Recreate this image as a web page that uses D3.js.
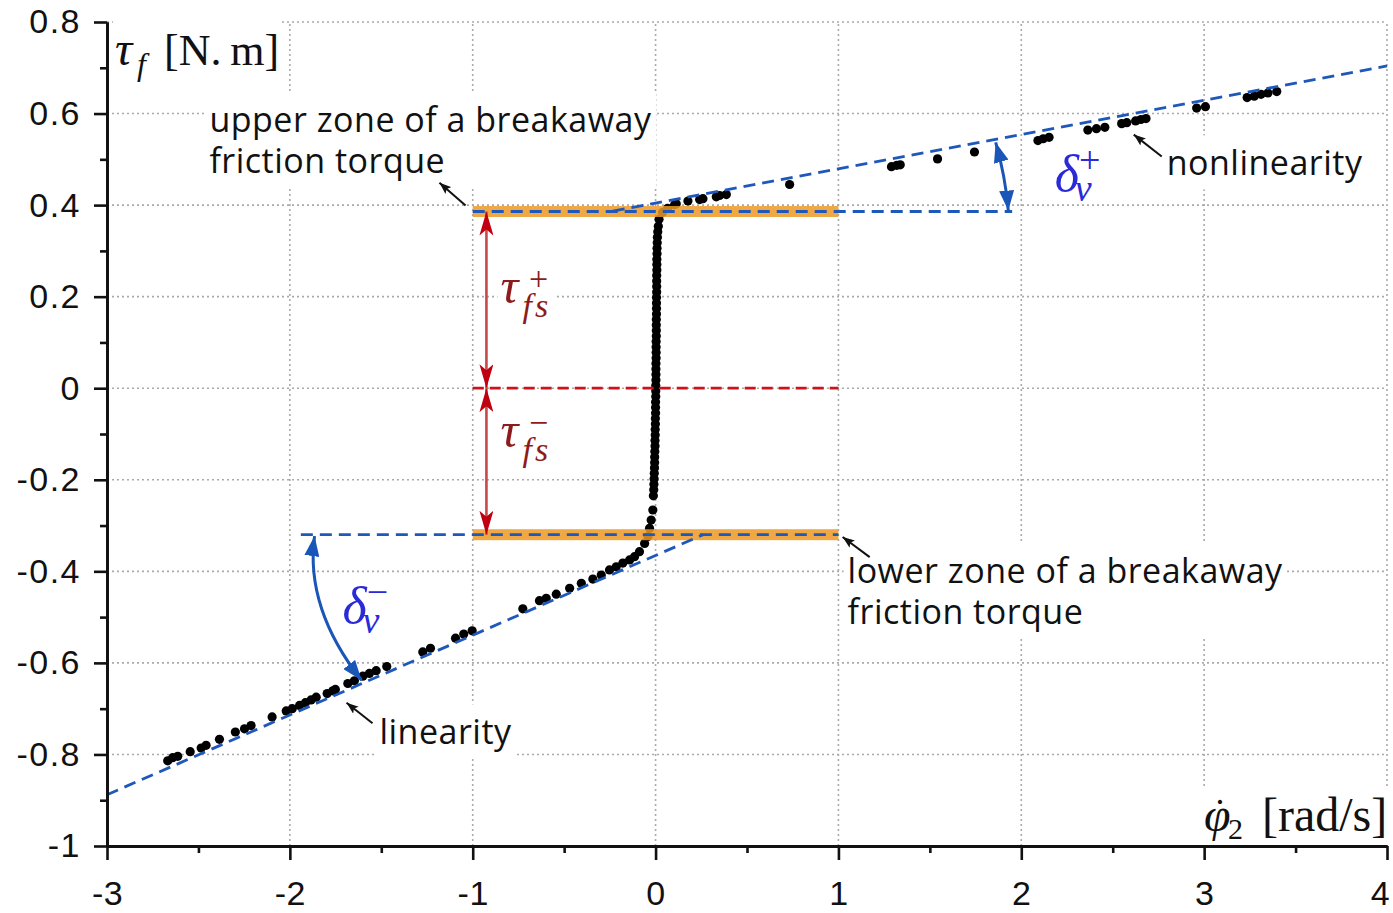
<!DOCTYPE html>
<html><head><meta charset="utf-8">
<script src="https://cdn.jsdelivr.net/npm/d3@7"></script>
<style>body{margin:0;background:#fff;overflow:hidden}</style>
</head><body>
<svg id="c" width="1393" height="913"></svg>
<script>
// ---------- data ----------
const xTicks = [-3, -2, -1, 0, 1, 2, 3, 4];
const xTickLabels = ["-3", "-2", "-1", "0", "1", "2", "3", "4"];
const yTicks = [-1, -0.8, -0.6, -0.4, -0.2, 0, 0.2, 0.4, 0.6, 0.8];
const yTickLabels = ["-1", "-0.8", "-0.6", "-0.4", "-0.2", "0", "0.2", "0.4", "0.6", "0.8"];
const xMinorTicks = [-2.5, -1.5, -0.5, 0.5, 1.5, 2.5, 3.5];
const yMinorTicks = [-0.9, -0.7, -0.5, -0.3, -0.1, 0.1, 0.3, 0.5, 0.7];

// measured friction torque vs velocity (negative sliding branch)
const slipNeg = [[-2.668,-0.814],[-2.641,-0.807],[-2.613,-0.804],[-2.545,-0.794],[-2.485,-0.786],[-2.458,-0.780],
 [-2.385,-0.767],[-2.298,-0.751],[-2.248,-0.744],[-2.212,-0.737],[-2.097,-0.718],[-2.020,-0.705],[-1.987,-0.700],
 [-1.947,-0.693],[-1.915,-0.687],[-1.884,-0.681],[-1.856,-0.675],[-1.796,-0.667],[-1.765,-0.661],[-1.751,-0.658],
 [-1.683,-0.645],[-1.647,-0.639],[-1.601,-0.629],[-1.565,-0.623],[-1.528,-0.617],[-1.470,-0.608],[-1.273,-0.576],
 [-1.231,-0.568],[-1.094,-0.546],[-1.049,-0.537],[-1.003,-0.530],[-0.726,-0.482],[-0.635,-0.464],[-0.598,-0.459],
 [-0.543,-0.450],[-0.470,-0.437],[-0.406,-0.426],[-0.343,-0.417],[-0.297,-0.408],[-0.252,-0.397],[-0.215,-0.390],
 [-0.179,-0.382],[-0.142,-0.375],[-0.115,-0.368],[-0.088,-0.357],[-0.060,-0.339],[-0.042,-0.324],[-0.033,-0.306],
 [-0.024,-0.288],[-0.015,-0.266]];
// stiction (near-zero velocity) part
const stick = [[-0.012,-0.235],[-0.010,-0.222],[-0.009,-0.210],[-0.008,-0.198],[-0.007,-0.186],[-0.006,-0.174],
 [-0.005,-0.162],[-0.005,-0.150],[-0.004,-0.138],[-0.003,-0.126],[-0.003,-0.114],[-0.002,-0.102],[-0.002,-0.090],
 [-0.001,-0.078],[-0.001,-0.066],[0.000,-0.054],[0.000,-0.042],[0.000,-0.030],[0.001,-0.018],[0.001,-0.006],
 [0.001,0.006],[0.002,0.018],[0.002,0.030],[0.002,0.042],[0.002,0.054],[0.003,0.066],[0.003,0.078],[0.003,0.090],
 [0.003,0.102],[0.004,0.114],[0.004,0.126],[0.004,0.138],[0.004,0.150],[0.005,0.162],[0.005,0.174],[0.005,0.186],
 [0.005,0.198],[0.006,0.210],[0.006,0.222],[0.006,0.234],[0.006,0.246],[0.007,0.258],[0.007,0.270],[0.007,0.282],
 [0.008,0.294],[0.008,0.306],[0.009,0.318],[0.010,0.330],[0.012,0.342],[0.015,0.354]];
// positive sliding branch
const slipPos = [[0.019,0.369],[0.038,0.384],[0.066,0.393],[0.104,0.401],[0.113,0.403],[0.177,0.409],[0.241,0.412],
 [0.259,0.414],[0.332,0.418],[0.350,0.421],[0.387,0.423],[0.733,0.445],[1.290,0.484],[1.319,0.487],[1.338,0.488],
 [1.542,0.501],[1.744,0.516],[2.091,0.541],[2.120,0.545],[2.152,0.548],[2.364,0.564],[2.411,0.567],[2.457,0.570],
 [2.549,0.578],[2.577,0.580],[2.625,0.584],[2.654,0.587],[2.682,0.589],[2.959,0.612],[3.007,0.615],[3.235,0.635],
 [3.274,0.638],[3.311,0.642],[3.349,0.645],[3.397,0.648]];

// reference lines
const slopePos = [[-0.234, 0.387], [4.0, 0.704]];
const slopeNeg = [[-3.0, -0.888], [0.26, -0.320]];
const breakUpper = 0.386, breakLower = -0.320;
const breakUpperX = [-1, 1.95], breakLowerX = [-1.94, 1.0];
const bandX = [-1, 1];
const bandHalf = 0.012;
const zeroLineX = [-1, 1];
const tauArrowX = -0.925;

const noteUpper = ["upper zone of a breakaway", "friction torque"];
const noteLower = ["lower zone of a breakaway", "friction torque"];
const noteNonlin = "nonlinearity";
const noteLin = "linearity";

// ---------- drawing ----------
const svg = d3.select("#c");
const x = d3.scaleLinear().domain([-3, 4]).range([107, 1387]);
const y = d3.scaleLinear().domain([-1, 0.8]).range([846, 22]);

const BLUE = "#1f58bb", RED = "#d0101a", ORANGE = "rgb(237,153,36)";
const SANS = "'Open Sans', sans-serif";
const SERIF = "'Liberation Serif', 'DejaVu Serif', serif";

const defs = svg.append("defs");
function marker(id, w, h, d, color) {
  defs.append("marker").attr("id", id).attr("viewBox", `0 0 ${w} ${h}`)
    .attr("refX", w).attr("refY", h / 2).attr("markerWidth", w).attr("markerHeight", h)
    .attr("markerUnits", "userSpaceOnUse").attr("orient", "auto-start-reverse")
    .append("path").attr("d", d).attr("fill", color);
}
marker("redHead", 24, 14, "M0,0 L24,7 L0,14 L6,7 Z", "#c00010");
marker("blueHead", 20, 15, "M0,0 L20,7.5 L0,15 Z", "#1a55b8");
marker("blackHead", 12, 9, "M0,0 L12,4.5 L0,9 L2.5,4.5 Z", "#111");

// grid
const grid = svg.append("g").attr("stroke", "#aaa").attr("stroke-width", 1.6).attr("stroke-dasharray", "2,3");
grid.selectAll("line.v").data(xTicks.filter(d => d > -3)).join("line")
  .attr("x1", d => x(d)).attr("x2", d => x(d)).attr("y1", y(-1)).attr("y2", y(0.8));
grid.selectAll("line.h").data(yTicks.filter(d => d > -1)).join("line").attr("class", "h")
  .attr("x1", x(-3)).attr("x2", x(4)).attr("y1", d => y(d)).attr("y2", d => y(d));

const maskLayer = svg.append("g");
const plotLayer = svg.append("g");
const textLayer = svg.append("g");

function masked(sel, pad) {
  const b = sel.node().getBBox();
  maskLayer.append("rect").attr("x", b.x - pad).attr("y", b.y - pad)
    .attr("width", b.width + 2 * pad).attr("height", b.height + 2 * pad).attr("fill", "#fff");
}

// dots
const dot = 4.6;
plotLayer.append("g").selectAll("circle").data(slipNeg.concat(stick, slipPos)).join("circle")
  .attr("cx", d => x(d[0])).attr("cy", d => y(d[1])).attr("r", dot).attr("fill", "#000");

// orange bands (over dots, slightly transparent)
plotLayer.append("g").selectAll("rect").data([breakUpper, breakLower]).join("rect")
  .attr("x", x(bandX[0])).attr("width", x(bandX[1]) - x(bandX[0]))
  .attr("y", d => y(d + bandHalf)).attr("height", d => y(d - bandHalf) - y(d + bandHalf))
  .attr("fill", ORANGE).attr("opacity", 0.85);

const line = d3.line().x(d => x(d[0])).y(d => y(d[1]));
const dashed = (pts, color, dash) => plotLayer.append("path").attr("d", line(pts)).attr("fill", "none")
  .attr("stroke", color).attr("stroke-width", 2.8).attr("stroke-dasharray", dash);
dashed(slopePos, BLUE, "12,7");
dashed(slopeNeg, BLUE, "12,7");
dashed([[breakUpperX[0], breakUpper], [breakUpperX[1], breakUpper]], BLUE, "12,7");
dashed([[breakLowerX[0], breakLower], [breakLowerX[1], breakLower]], BLUE, "12,7");
dashed([[zeroLineX[0], 0], [zeroLineX[1], 0]], RED, "11,6");

// red double arrows
[[breakUpper, 0], [0, breakLower]].forEach(([a, b]) => {
  plotLayer.append("line").attr("x1", x(tauArrowX)).attr("x2", x(tauArrowX))
    .attr("y1", y(a)).attr("y2", y(b)).attr("stroke", "#c64848").attr("stroke-width", 2.6)
    .attr("marker-start", "url(#redHead)").attr("marker-end", "url(#redHead)");
});

// blue curved angle arrows
function arc(p0, c, p1) {
  plotLayer.append("path")
    .attr("d", `M${x(p0[0])},${y(p0[1])} Q${x(c[0])},${y(c[1])} ${x(p1[0])},${y(p1[1])}`)
    .attr("fill", "none").attr("stroke", "#1a55b8").attr("stroke-width", 3)
    .attr("marker-start", "url(#blueHead)").attr("marker-end", "url(#blueHead)");
}
arc([1.860, 0.537], [1.913, 0.463], [1.929, 0.388]);
arc([-1.865, -0.323], [-1.918, -0.480], [-1.608, -0.638]);

// black annotation arrows
function note(tail, head) {
  plotLayer.append("line").attr("x1", x(tail[0])).attr("y1", y(tail[1]))
    .attr("x2", x(head[0])).attr("y2", y(head[1])).attr("stroke", "#111").attr("stroke-width", 2)
    .attr("marker-end", "url(#blackHead)");
}
note([-1.039, 0.399], [-1.182, 0.449]);
note([1.171, -0.369], [1.023, -0.325]);
note([2.768, 0.506], [2.615, 0.554]);
note([-1.548, -0.732], [-1.690, -0.687]);

// annotation texts
function multiText(lines, px, py, gap) {
  const t = textLayer.append("text").attr("x", px).attr("y", py)
    .attr("font-family", SANS).attr("font-size", 34).attr("letter-spacing", 0.5).attr("fill", "#111");
  lines.forEach((s, i) => t.append("tspan").attr("x", px).attr("dy", i ? gap : 0).text(s));
  masked(t, 4);
  return t;
}
multiText(noteUpper, x(-2.440), y(0.5587), 41);
multiText(noteLower, x(1.050), y(-0.426), 41);
multiText([noteNonlin], x(2.795), y(0.465), 0);
multiText([noteLin], x(-1.510), y(-0.778), 0);

// math labels
function mathLabel(base, sup, sub, px, py, color, opts) {
  const g = textLayer.append("g").attr("fill", color).attr("font-family", SERIF);
  g.append("text").attr("x", px).attr("y", py).attr("font-size", opts.size).attr("font-style", "italic").text(base);
  if (sup) g.append("text").attr("x", px + opts.supDx).attr("y", py + opts.supDy).attr("font-size", opts.small)
    .attr("text-anchor", "middle").text(sup);
  if (sub) g.append("text").attr("x", px + opts.subDx).attr("y", py + opts.subDy).attr("font-size", opts.small)
    .attr("font-style", "italic").attr("letter-spacing", opts.subSpacing || 0).text(sub);
  return g;
}
const tauOpts = {size: 50, small: 34, supDx: 38, supDy: -13, subDx: 22, subDy: 14, subSpacing: 3};
masked(mathLabel("τ", "+", "fs", x(-0.848), y(0.187), "#8e1b1b", tauOpts), 3);
masked(mathLabel("τ", "−", "fs", x(-0.848), y(-0.128), "#8e1b1b", tauOpts), 3);
const delOpts = {size: 52, small: 38, supDx: 35, supDy: -18, subDx: 20, subDy: 10};
mathLabel("δ", "+", "v", x(2.183), y(0.430), "#2a2ad8", delOpts);
mathLabel("δ", "−", "v", x(-1.712), y(-0.513), "#2a2ad8", delOpts);

// axis titles
const yTitle = textLayer.append("g").attr("font-family", SERIF).attr("fill", "#111");
yTitle.append("text").attr("x", 115).attr("y", 65).attr("font-size", 48).attr("font-style", "italic").text("τ");
yTitle.append("text").attr("x", 137).attr("y", 75).attr("font-size", 32).attr("font-style", "italic").text("f");
yTitle.append("text").attr("x", 164).attr("y", 65).attr("font-size", 44).text("[N.\u2009m]");
masked(yTitle, 2);

const xTitle = textLayer.append("g").attr("font-family", SERIF).attr("fill", "#111");
xTitle.append("text").attr("x", 1204).attr("y", 831).attr("font-size", 48).attr("font-style", "italic").text("φ");
xTitle.append("text").attr("x", 1220).attr("y", 826).attr("font-size", 40).attr("text-anchor", "middle").text("˙");
xTitle.append("text").attr("x", 1228).attr("y", 839).attr("font-size", 30).text("2");
xTitle.append("text").attr("x", 1262).attr("y", 831).attr("font-size", 48).text("[rad/s]");
masked(xTitle, 2);

// axes
const axisStyle = (spacing) => g => {
  g.selectAll("path.domain").attr("stroke", "#111").attr("stroke-width", 2.8);
  g.selectAll(".tick line").attr("stroke", "#111").attr("stroke-width", 2.6);
  g.selectAll(".tick text").attr("font-family", "'Liberation Sans', Arial, sans-serif")
    .attr("font-size", 34).attr("letter-spacing", spacing).attr("fill", "#111");
};
svg.append("g").attr("transform", `translate(0,${y(-1)})`)
  .call(d3.axisBottom(x).tickValues(xMinorTicks).tickSize(7).tickSizeOuter(0).tickFormat(""))
  .call(axisStyle(0));
svg.append("g").attr("transform", `translate(${x(-3)},0)`)
  .call(d3.axisLeft(y).tickValues(yMinorTicks).tickSize(7).tickSizeOuter(0).tickFormat(""))
  .call(axisStyle(0));
const xAxisG = svg.append("g").attr("transform", `translate(0,${y(-1)})`)
  .call(d3.axisBottom(x).tickValues(xTicks).tickSize(14).tickSizeOuter(0).tickPadding(21)
    .tickFormat((d, i) => xTickLabels[i]))
  .call(axisStyle(0.5));
// keep the last x label inside the picture, as in the reference
xAxisG.selectAll(".tick text").filter(d => d === 4).attr("x", -7);
svg.append("g").attr("transform", `translate(${x(-3)},0)`)
  .call(d3.axisLeft(y).tickValues(yTicks).tickSize(13).tickSizeOuter(0).tickPadding(13)
    .tickFormat((d, i) => yTickLabels[i]))
  .call(axisStyle(1.5));
</script>
</body></html>
